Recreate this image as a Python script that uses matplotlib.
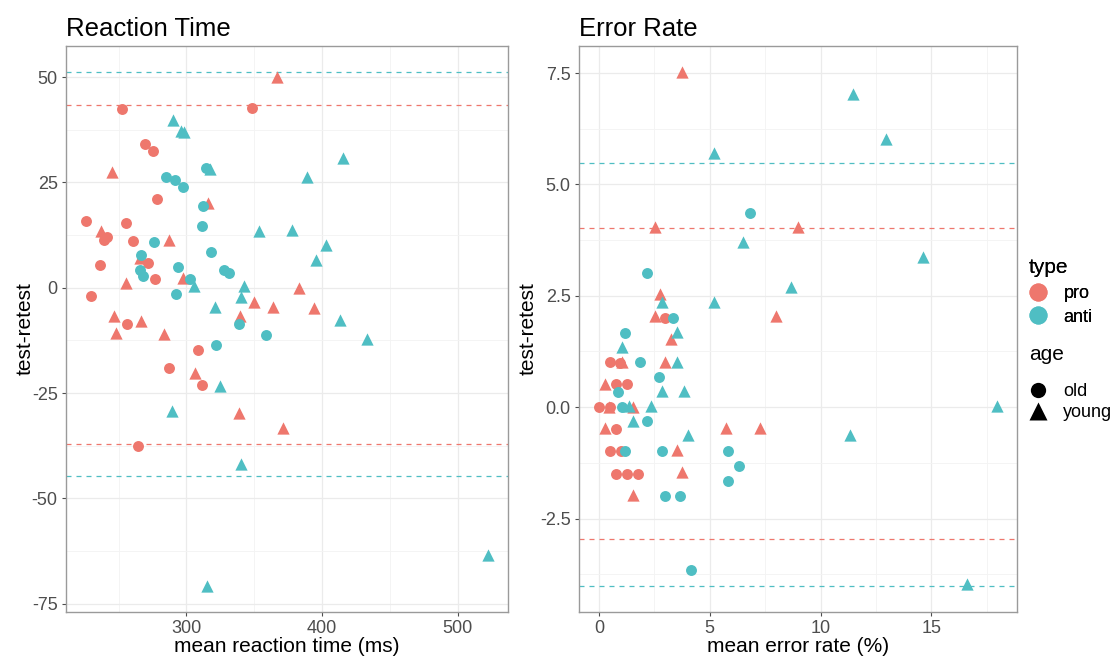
import numpy as np
import matplotlib
matplotlib.use("Agg")
import matplotlib.pyplot as plt
from matplotlib.lines import Line2D

plt.rcParams['font.family'] = ['Liberation Sans', 'DejaVu Sans']

RED = '#EE776D'
CYAN = '#4FBEC3'

# ---- Reaction time panel data (mean RT in ms, test-retest difference) ----
rt_pro_old_x = [252.2, 348.3, 269.4, 275.5, 278.2, 226.0, 255.4, 241.2, 239.2, 260.3,
                236.0, 271.6, 277.0, 229.9, 255.9, 308.8, 287.0, 311.5, 264.0]
rt_pro_old_y = [42.4, 42.6, 34.1, 32.5, 21.0, 15.9, 15.3, 12.0, 11.3, 11.0,
                5.3, 5.8, 2.0, -1.9, -8.6, -14.8, -19.0, -23.2, -37.6]
rt_pro_young_x = [367.1, 245.4, 316.2, 237.3, 287.0, 266.0, 297.3, 255.1, 350.0, 363.7,
                  382.8, 394.4, 246.6, 266.7, 339.7, 247.8, 283.8, 306.4, 338.7, 371.1]
rt_pro_young_y = [50.1, 27.5, 20.2, 13.4, 11.4, 7.0, 2.4, 1.1, -3.3, -4.6,
                  0.0, -4.8, -6.8, -7.9, -6.8, -10.8, -11.1, -20.3, -29.8, -33.3]
rt_anti_old_x = [314.5, 284.8, 291.7, 297.8, 312.3, 311.3, 276.0, 318.1, 266.2, 265.4,
                 268.2, 293.9, 327.5, 331.6, 302.4, 292.6, 338.7, 358.3, 321.8]
rt_anti_old_y = [28.5, 26.3, 25.5, 23.9, 19.4, 14.7, 10.8, 8.4, 7.7, 4.3,
                 2.9, 5.0, 4.1, 3.6, 2.1, -1.6, -8.6, -11.2, -13.6]
rt_anti_young_x = [289.9, 296.3, 298.5, 317.6, 415.2, 388.7, 353.7, 377.5, 402.7, 395.4,
                   305.4, 342.1, 339.9, 321.1, 413.0, 433.1, 325.0, 289.2, 339.9, 522.3, 315.2]
rt_anti_young_y = [39.8, 37.2, 36.9, 28.2, 30.8, 26.2, 13.5, 13.8, 10.1, 6.7,
                   0.3, 0.5, -2.2, -4.6, -7.6, -12.1, -23.3, -29.2, -41.9, -63.4, -70.9]
rt_pro_limits = [43.4, -37.1]
rt_anti_limits = [51.3, -44.6]

# ---- Error rate panel data (mean error %, test-retest difference) ----
er_pro_old_x = [3.00, 0.51, 0.95, 0.78, 1.26, 0.0, 0.51, 0.78, 0.51, 1.01, 0.77, 1.26, 1.76]
er_pro_old_y = [2.01, 1.01, 1.0, 0.51, 0.51, 0.0, 0.0, -0.49, -0.99, -0.99, -1.49, -1.49, -1.49]
er_pro_young_x = [3.76, 2.51, 8.98, 2.75, 2.51, 7.97, 3.26, 1.02, 3.00, 0.27,
                  0.45, 1.53, 0.27, 5.75, 7.25, 3.50, 3.76, 1.52]
er_pro_young_y = [7.53, 4.04, 4.04, 2.54, 2.04, 2.04, 1.52, 1.02, 1.02, 0.51,
                  0.0, 0.01, -0.47, -0.47, -0.47, -0.97, -1.46, -1.98]
er_anti_old_x = [6.83, 2.18, 3.35, 1.19, 1.85, 2.69, 0.84, 1.02, 2.18, 1.19,
                 2.84, 5.83, 6.32, 5.83, 3.00, 3.68, 4.16]
er_anti_old_y = [4.35, 3.01, 2.01, 1.67, 1.01, 0.67, 0.34, 0.01, -0.32, -0.99,
                 -0.99, -0.99, -1.33, -1.66, -2.00, -2.00, -3.66]
er_anti_young_x = [11.47, 12.97, 5.18, 6.50, 14.64, 8.67, 2.85, 5.18, 3.53, 1.02,
                   3.53, 2.84, 3.85, 1.35, 2.36, 17.96, 1.53, 4.01, 11.31, 16.62]
er_anti_young_y = [7.04, 6.03, 5.70, 3.71, 3.37, 2.70, 2.36, 2.36, 1.69, 1.36,
                   1.02, 0.37, 0.37, 0.03, 0.03, 0.03, -0.30, -0.62, -0.62, -3.98]
er_pro_limits = [4.02, -2.95]
er_anti_limits = [5.48, -4.02]

W, H = 1113, 656
fig = plt.figure(figsize=(W / 100, H / 100), dpi=100)


def box(x0, y0, x1, y1):
    return [x0 / W, 1 - y1 / H, (x1 - x0) / W, (y1 - y0) / H]


def panel(ax, groups, pro_lim, anti_lim, title, xlabel, xmaj, xmin, ymaj, ymin, yfmt, ylpad):
    for xs, ys, col, mk, s in groups:
        ax.scatter(xs, ys, c=col, marker=mk, s=s, linewidths=0, zorder=3)
    for v in pro_lim:
        ax.axhline(v, color=RED, ls=(0, (4, 4)), lw=0.9, zorder=2)
    for v in anti_lim:
        ax.axhline(v, color=CYAN, ls=(0, (4, 4)), lw=0.9, zorder=2)
    allx = np.concatenate([g[0] for g in groups])
    ally = np.concatenate([g[1] for g in groups] + [pro_lim, anti_lim])
    dx = 0.05 * (allx.max() - allx.min())
    dy = 0.05 * (ally.max() - ally.min())
    ax.set_xlim(allx.min() - dx, allx.max() + dx)
    ax.set_ylim(ally.min() - dy, ally.max() + dy)
    ax.set_xticks(xmaj)
    ax.set_xticks(xmin, minor=True)
    ax.set_yticks(ymaj)
    ax.set_yticks(ymin, minor=True)
    ax.set_yticklabels([yfmt.format(v) for v in ymaj])
    ax.grid(which='major', color='#EBEBEB', lw=0.9, zorder=0)
    ax.grid(which='minor', color='#F3F3F3', lw=0.6, zorder=0)
    ax.set_axisbelow(True)
    ax.tick_params(which='major', length=3, width=0.8, color='#4D4D4D',
                   labelsize=13, labelcolor='#4D4D4D', pad=3)
    ax.tick_params(which='minor', length=0)
    for sp in ax.spines.values():
        sp.set_color('#9A9A9A')
        sp.set_linewidth(1.0)
    ax.set_title(title, loc='left', fontsize=18.5, pad=7)
    ax.set_xlabel(xlabel, fontsize=15, labelpad=0)
    ax.set_ylabel('test-retest', fontsize=15, labelpad=ylpad)


ax1 = fig.add_axes(box(66, 46, 508, 612))
panel(ax1,
      [(rt_pro_old_x, rt_pro_old_y, RED, 'o', 62),
       (rt_pro_young_x, rt_pro_young_y, RED, '^', 78),
       (rt_anti_old_x, rt_anti_old_y, CYAN, 'o', 62),
       (rt_anti_young_x, rt_anti_young_y, CYAN, '^', 78)],
      rt_pro_limits, rt_anti_limits, 'Reaction Time', 'mean reaction time (ms)',
      [300, 400, 500], [250, 350, 450],
      [-75, -50, -25, 0, 25, 50], [-62.5, -37.5, -12.5, 12.5, 37.5], '{:g}', -2)

ax2 = fig.add_axes(box(579, 46, 1017, 612))
panel(ax2,
      [(er_pro_old_x, er_pro_old_y, RED, 'o', 62),
       (er_pro_young_x, er_pro_young_y, RED, '^', 78),
       (er_anti_old_x, er_anti_old_y, CYAN, 'o', 62),
       (er_anti_young_x, er_anti_young_y, CYAN, '^', 78)],
      er_pro_limits, er_anti_limits, 'Error Rate', 'mean error rate (%)',
      [0, 5, 10, 15], [2.5, 7.5, 12.5, 17.5],
      [-2.5, 0, 2.5, 5, 7.5], [-3.75, -1.25, 1.25, 3.75, 6.25], '{:.1f}', 2)

# legends
type_handles = [Line2D([], [], ls='', marker='o', ms=13, color=RED, mec='none', label='pro'),
                Line2D([], [], ls='', marker='o', ms=13, color=CYAN, mec='none', label='anti')]
age_handles = [Line2D([], [], ls='', marker='o', ms=11, color='black', mec='none', label='old'),
               Line2D([], [], ls='', marker='^', ms=13, color='black', mec='none', label='young')]
leg1 = fig.legend(handles=type_handles, title='type', loc='upper left',
                  bbox_to_anchor=(1029 / W, 1 - 258 / H), frameon=False,
                  fontsize=13, title_fontsize=15, alignment='left',
                  handlelength=1.0, handletextpad=0.9, labelspacing=0.35,
                  borderaxespad=0, borderpad=0)
leg1._legend_box.sep = 6
fig.add_artist(leg1)
leg2 = fig.legend(handles=age_handles, title='age', loc='upper left',
                  bbox_to_anchor=(1029 / W, 1 - 345 / H), frameon=False,
                  fontsize=13, title_fontsize=15, alignment='left',
                  handlelength=1.0, handletextpad=0.9, labelspacing=0.2,
                  borderaxespad=0, borderpad=0)
leg2._legend_box.sep = 14

fig.savefig('out.png', dpi=100)
